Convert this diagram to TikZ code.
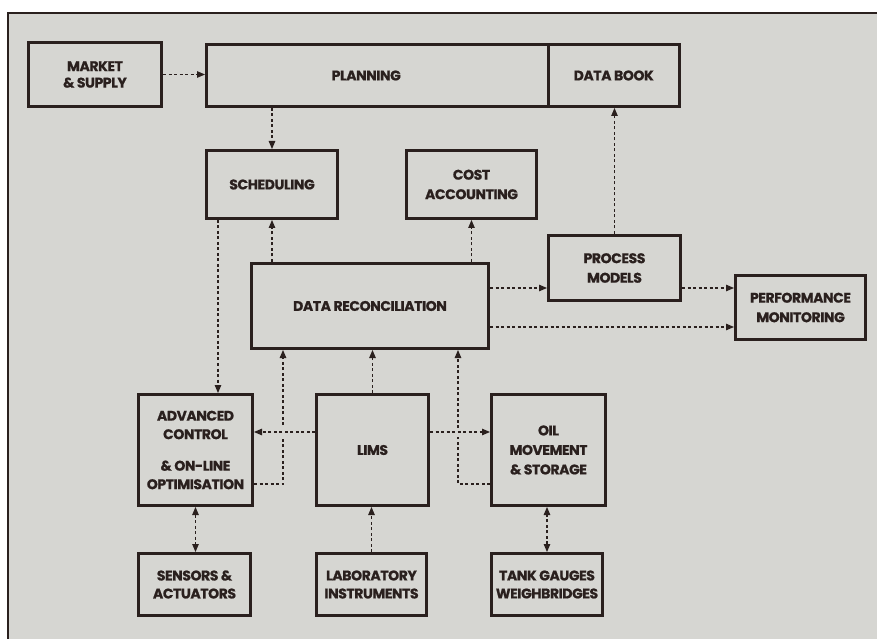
\documentclass[tikz,border=0pt]{standalone}
\usepackage{fontspec}
\setmainfont{Poppins}[LetterSpace=-3, BoldFeatures={FakeBold=0.8}]
\usetikzlibrary{arrows.meta,calc}
\definecolor{bgc}{RGB}{214,214,210}
\definecolor{ink}{RGB}{42,32,30}
\tikzset{
  box/.style={draw=ink, line width=3pt, fill=bgc, inner sep=0pt, align=center,
    font=\bfseries\fontsize{14}{19.5}\selectfont, text=ink},
  arr/.style={draw=ink, line width=1.1pt, dash pattern=on 3pt off 2.5pt,
    -{Triangle[length=8pt,width=6.5pt]}},
  darr/.style={draw=ink, line width=1.1pt, dash pattern=on 3pt off 2.5pt,
    {Triangle[length=8pt,width=6.5pt]}-{Triangle[length=8pt,width=6.5pt]}},
  gap/.style={preaction={draw=bgc, solid, line width=9pt, shorten <=4pt, shorten >=10pt, -}}
}
\begin{document}
\begin{tikzpicture}[x=1pt,y=-1pt]
\useasboundingbox (0,0) rectangle (879,639);
\fill[white] (0,0) rectangle (879,639);
\fill[bgc] (8,13) rectangle (877,639);
\draw[ink, line width=2pt] (8,639) -- (8,13) -- (877,13);

\node[box, minimum width=133pt, minimum height=64pt, font=\bfseries\fontsize{14}{16.5}\selectfont] (market) at (95,74.5) {MARKET\\\& SUPPLY};
\node[box, minimum width=341.5pt, minimum height=62pt] (planning) at (377.25,75.5) {\hspace*{-22pt}PLANNING};
\node[box, minimum width=131.5pt, minimum height=62pt] (databook) at (613.75,75.5) {DATA BOOK};
\node[box, minimum width=131pt, minimum height=68pt] (sched) at (272,184.5) {SCHEDULING};
\node[box, minimum width=130pt, minimum height=68pt] (cost) at (471.5,184.5) {COST\\ACCOUNTING};
\node[box, minimum width=237pt, minimum height=85pt] (dr) at (370,306) {DATA RECONCILIATION};
\node[box, minimum width=132pt, minimum height=65pt] (pm) at (614.5,268) {PROCESS\\MODELS};
\node[box, minimum width=130pt, minimum height=64pt] (perf) at (800.5,307.5) {PERFORMANCE\\MONITORING};
\node[box, minimum width=114pt, minimum height=111pt, font=\bfseries\fontsize{14}{18.5}\selectfont] (ac) at (195.5,450) {ADVANCED\\CONTROL\\[13pt]\& ON-LINE\\OPTIMISATION};
\node[box, minimum width=112pt, minimum height=111pt] (lims) at (372.5,450) {LIMS};
\node[box, minimum width=114pt, minimum height=111pt] (oil) at (548.5,450) {OIL\\MOVEMENT\\\& STORAGE};
\node[box, minimum width=112pt, minimum height=62pt, font=\bfseries\fontsize{14}{18}\selectfont] (sens) at (194.5,584.5) {SENSORS \&\\ACTUATORS};
\node[box, minimum width=110pt, minimum height=62pt, font=\bfseries\fontsize{14}{18}\selectfont] (lab) at (371.5,584.5) {LABORATORY\\INSTRUMENTS};
\node[box, minimum width=111pt, minimum height=62pt, font=\bfseries\fontsize{14}{18}\selectfont] (tank) at (547,584.5) {TANK GAUGES\\WEIGHBRIDGES};

% top
\draw[arr] (market.east) -- (market.east -| planning.west);
\draw[arr] (planning.south -| sched.north) -- (sched.north);
\draw[arr] ([xshift=-54pt]sched.south) -- ([xshift=-54pt]sched.south |- ac.north);
\draw[arr] (dr.north -| sched.south) -- (sched.south);
\draw[arr] (dr.north -| cost.south) -- (cost.south);
\draw[arr] (pm.north) -- (pm.north |- databook.south);
% right
\coordinate (pmin) at ([yshift=-20pt]pm.west);
\draw[arr] (pmin -| dr.east) -- (pmin);
\draw[arr] (pmin -| pm.east) -- (pmin -| perf.west);
\coordinate (drlow) at ([yshift=-21pt]dr.east);
\draw[arr] (drlow) -- (drlow -| perf.west);
% lower
\draw[arr] ([yshift=-34pt]ac.east) -| ([xshift=-87pt]dr.south);
\draw[arr] ([yshift=-34pt]oil.west) -| ([xshift=88pt]dr.south);
\draw[arr] (lims.north) -- (lims.north |- dr.south);
\coordinate (lh) at ([yshift=18pt]lims.center);
\draw[arr, gap] (lh -| lims.west) -- (lh -| ac.east);
\draw[arr, gap] (lh -| lims.east) -- (lh -| oil.west);
\draw[darr] (ac.south) -- (ac.south |- sens.north);
\draw[arr] (lab.north) -- (lab.north |- lims.south);
\draw[darr] (tank.north) -- (tank.north |- oil.south);
\end{tikzpicture}
\end{document}
